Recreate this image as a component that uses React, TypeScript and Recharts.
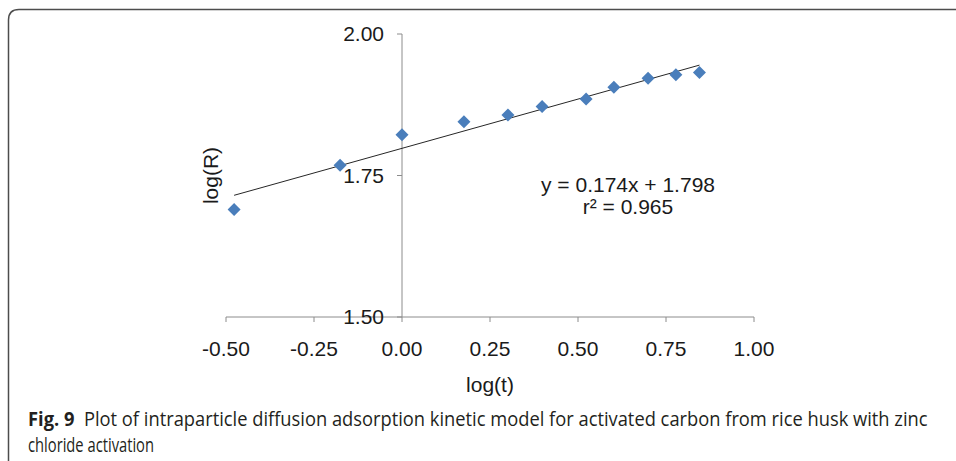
import React, { useLayoutEffect, useRef, useState } from 'react';
import { ScatterChart, Scatter, XAxis, YAxis, ReferenceLine, ReferenceDot } from 'recharts';

// ---- data ----
const xValues = [-0.477, -0.176, 0.0, 0.176, 0.301, 0.398, 0.523, 0.602, 0.699, 0.778, 0.845];
const yValues = [1.69, 1.768, 1.822, 1.845, 1.857, 1.872, 1.885, 1.906, 1.922, 1.928, 1.932];
const xTicks = [-0.5, -0.25, 0, 0.25, 0.5, 0.75, 1.0];
const yTicks = [1.5, 1.75, 2.0];
const trendSlope = 0.174;
const trendIntercept = 1.798;
const r2 = 0.965;

const xLabel = 'log(t)';
const yLabel = 'log(R)';
const captionBold = 'Fig. 9';
const captionLine1 = 'Plot of intraparticle diffusion adsorption kinetic model for activated carbon from rice husk with zinc';
const captionLine2 = 'chloride activation';

const points = xValues.map((x, i) => ({ x, y: yValues[i] }));
const trendData = [xValues[0], xValues[xValues.length - 1]].map((x) => ({ x, y: trendSlope * x + trendIntercept }));

const FONT = '"Liberation Sans", Arial, sans-serif';
const CAPFONT = '"Open Sans", "Noto Sans", sans-serif';
const AXIS = '#8c8c8c';
const TEXT = '#1a1a1a';
const BLUE = '#4A7EBB';

const Diamond = (props: any) => {
  const { cx, cy } = props;
  const h = 6.5;
  return <path d={`M${cx},${cy - h}L${cx + h},${cy}L${cx},${cy + h}L${cx - h},${cy}Z`} fill={BLUE} />;
};

const YTick = (label: string) => (props: any) => {
  const { cx, cy } = props;
  return (
    <g>
      <line x1={cx - 5} y1={cy} x2={cx} y2={cy} stroke={AXIS} strokeWidth={1} />
      <text x={cx - 18} y={cy} dy="0.355em" textAnchor="end" fontSize={21} fontFamily={FONT} fill={TEXT}>
        {label}
      </text>
    </g>
  );
};

const CAP_X = 28;
const CAP_W1 = 900;
const CAP_W2 = 126;

export default function App() {
  const line1Ref = useRef<SVGTextElement>(null);
  const [sx, setSx] = useState(1);
  useLayoutEffect(() => {
    const el = line1Ref.current;
    if (el) {
      const len = el.getComputedTextLength();
      if (len > 0) setSx(CAP_W1 / len);
    }
  }, []);

  return (
    <div style={{ position: 'absolute', left: 0, top: 0, width: 956, height: 461, overflow: 'hidden', background: '#fff' }}>
      <ScatterChart width={956} height={461} margin={{ top: 34, right: 202, bottom: 54, left: 196 }}>
        <XAxis
          type="number"
          dataKey="x"
          domain={[-0.5, 1]}
          ticks={xTicks}
          interval={0}
          allowDataOverflow
          tickFormatter={(v: number) => v.toFixed(2)}
          tickSize={5}
          tickMargin={19}
          height={90}
          stroke={AXIS}
          tick={{ fill: TEXT, fontSize: 21, fontFamily: FONT }}
          label={{ value: xLabel, position: 'insideBottom', offset: 15, fill: TEXT, fontSize: 21, fontFamily: FONT }}
        />
        <YAxis
          type="number"
          dataKey="y"
          domain={[1.5, 2]}
          ticks={yTicks}
          allowDataOverflow
          width={30}
          tick={false}
          axisLine={false}
          tickLine={false}
          label={{ value: yLabel, angle: -90, position: 'center', fill: TEXT, fontSize: 21, fontFamily: FONT }}
        />
        <ReferenceLine x={0} stroke={AXIS} strokeWidth={1} />
        {yTicks.map((v) => (
          <ReferenceDot key={v} x={0} y={v} r={0} shape={YTick(v.toFixed(2))} />
        ))}
        <Scatter
          data={trendData}
          line={{ stroke: '#262626', strokeWidth: 1 }}
          shape={() => <g />}
          isAnimationActive={false}
        />
        <Scatter data={points} shape={Diamond} fill={BLUE} isAnimationActive={false} />
      </ScatterChart>
      <svg width={956} height={461} style={{ position: 'absolute', left: 0, top: 0, pointerEvents: 'none' }}>
        <path d="M8.5,470 L8.5,20 Q8.5,9.5 19,9.5 L970,9.5" fill="none" stroke="#4d4d4d" strokeWidth={1.5} />
        <text x={628} y={192} textAnchor="middle" fontSize={21} fontFamily={FONT} fill={TEXT}>
          {`y = ${trendSlope.toFixed(3)}x + ${trendIntercept.toFixed(3)}`}
        </text>
        <text x={628} y={214} textAnchor="middle" fontSize={21} fontFamily={FONT} fill={TEXT}>
          {`r² = ${r2.toFixed(3)}`}
        </text>
        <g transform={`translate(${CAP_X},0) scale(${sx},1)`}>
          <text ref={line1Ref} x={0} y={426} fontSize={19.5} fontFamily={CAPFONT} fill="#231f20" style={{ whiteSpace: 'pre' }}>
            <tspan fontWeight="bold">{captionBold}</tspan>
            <tspan>{'  ' + captionLine1}</tspan>
          </text>
          <text x={0} y={452} fontSize={19.5} fontFamily={CAPFONT} fill="#231f20" textLength={CAP_W2 / sx} lengthAdjust="spacingAndGlyphs">
            {captionLine2}
          </text>
        </g>
      </svg>
    </div>
  );
}
